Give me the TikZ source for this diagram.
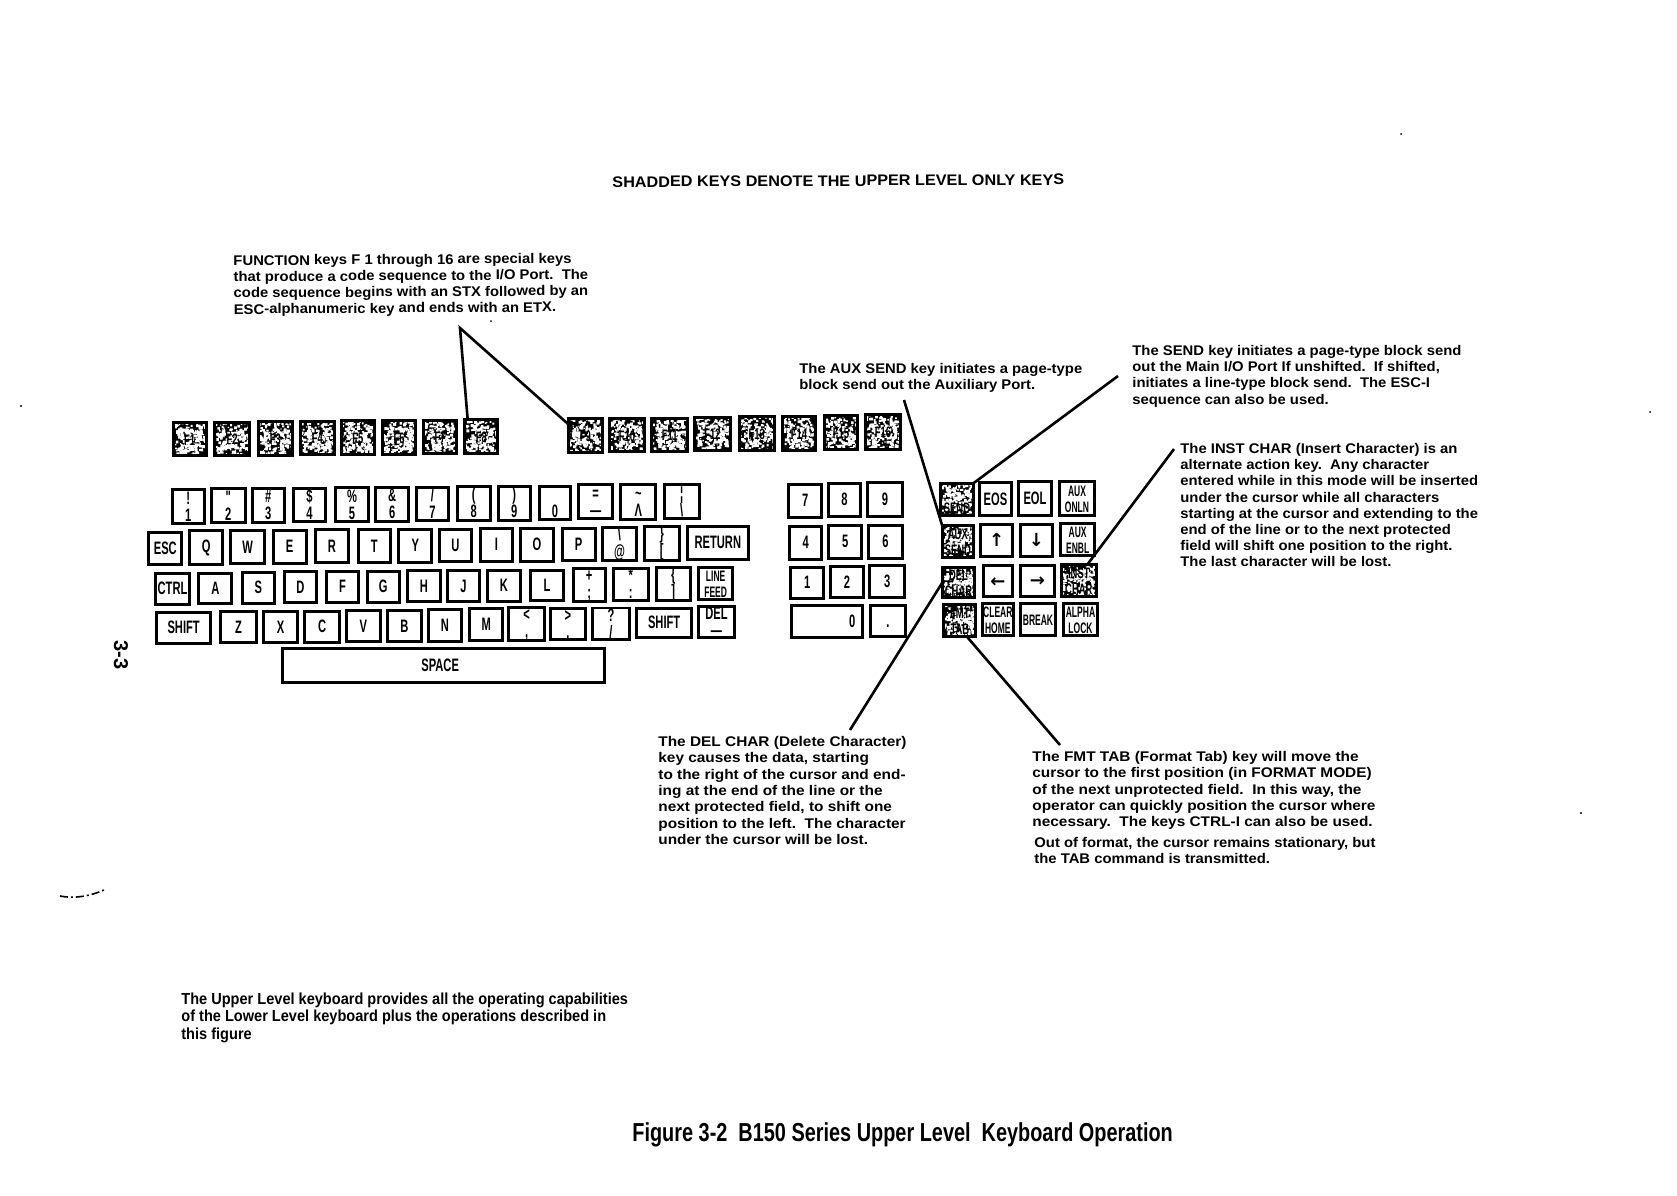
\documentclass[tikz,border=0pt]{standalone}
\usepackage{fontspec}
\setmainfont{Liberation Sans}
\newfontfamily\keyfont[FakeStretch=0.62]{Liberation Sans}
\newfontfamily\smallkeyfont[FakeStretch=0.56]{Liberation Sans}
\newfontfamily\condfont[FakeStretch=0.91]{Liberation Sans}
\newfontfamily\figfont[FakeStretch=0.765]{Liberation Sans}
\newfontfamily\notefont[FakeStretch=1.06]{Liberation Sans}
\newfontfamily\widefont[FakeStretch=1.1]{Liberation Sans}
\newfontfamily\plainfont{Liberation Sans}
\newfontfamily\arrowfont{DejaVu Sans}
\def\ox{0}\def\oy{0}
\newcommand\dsp{\ \ }
\newcommand\speckles{%
  \fill[white] \foreach \i in {1,...,170}{
      \pgfextra{\pgfmathsetmacro\px{(rnd-.5)*\kw}\pgfmathsetmacro\py{(rnd-.5)*\kh}\pgfmathsetmacro\ps{.9+rnd*2.1}}
      ([shift={(\px,\py)}]path picture bounding box.center) rectangle ++(\ps,\ps)};
  \fill[white] \foreach \i in {1,...,60}{
      \pgfextra{\pgfmathsetmacro\px{(rnd-.5)*\kw*.72}\pgfmathsetmacro\py{(rnd-.5)*\kh*.62}\pgfmathsetmacro\ps{1.2+rnd*1.8}}
      ([shift={(\px,\py)}]path picture bounding box.center) rectangle ++(\ps,\ps)};}
\tikzset{x=.5pt,y=-.5pt,
  keybox/.style={draw=black,fill=white,line width=1.4pt,inner sep=0pt,outer sep=0pt,align=center,
    font=\keyfont\bfseries\fontsize{9}{8.5}\selectfont},
  smallkey/.style={keybox,font=\smallkeyfont\bfseries\fontsize{7.6}{8}\selectfont},
  shadedkey/.style={keybox,fill=black,font=\keyfont\bfseries\fontsize{7.6}{8}\selectfont,
    path picture={\speckles}},
  note/.style={anchor=north west,align=left,inner sep=0pt,font=\notefont\bfseries\fontsize{7}{8.1}\selectfont},
  widenote/.style={note,font=\widefont\bfseries\fontsize{7}{8.15}\selectfont},
  leader/.style={draw=black,line width=1.3pt}
}
\newcommand\K[7][keybox]{%
  \pgfmathsetmacro\kw{(#5-#3)/3-3}\pgfmathsetmacro\kh{(#6-#4)/3-3}%
  \pgfmathsetmacro\cx{\ox+(#3+#5)/6}\pgfmathsetmacro\cy{\oy+(#4+#6)/6}%
  \node[#1,minimum width=\kw*.5pt,minimum height=\kh*.5pt] (#2) at (\cx,\cy) {\rule{0pt}{6.5pt}#7\rule[-.6pt]{0pt}{.6pt}};}
\lineskiplimit=-9pt
\begin{document}
\begin{tikzpicture}
\pgfmathsetseed{4711}
\useasboundingbox (0,0) rectangle (1677,1195);
\fill[white] (0,0) rectangle (1677,1195);
% scan specks
\fill[black] (21,406) circle (1.2) (1401,134) circle (1) (1581,813) circle (1.2) (1650,412) circle (1) (491,321) circle (1);
\draw[black,line width=.8pt,dash pattern=on 4pt off 1.5pt on 1pt off 1.5pt] (60,896) .. controls (75,899) and (90,896) .. (104,890);
% title
\node[font=\notefont\bfseries\fontsize{7.65}{9}\selectfont,anchor=west,inner sep=0pt,rotate=.3] (title) at (612,182) {SHADDED KEYS DENOTE THE UPPER LEVEL ONLY KEYS};
% function keys
\def\ox{140}\def\oy{400}
\K[shadedkey]{F1}{95}{63}{203}{172}{F1}
\K[shadedkey]{F2}{220}{62}{333}{170}{F2}
\K[shadedkey]{F3}{350}{60}{462}{170}{F3}
\K[shadedkey]{F4}{477}{60}{587}{168}{F4}
\K[shadedkey]{F5}{600}{58}{707}{168}{F5}
\K[shadedkey]{F6}{722}{58}{832}{167}{F6}
\K[shadedkey]{F7}{845}{57}{955}{165}{F7}
\K[shadedkey]{F8}{970}{55}{1078}{165}{F8}
\def\ox{480}
\K[shadedkey]{F9}{260}{52}{372}{162}{F9}
\K[shadedkey]{F10}{385}{52}{497}{160}{F10}
\K[shadedkey]{F11}{510}{50}{628}{160}{F11}
\K[shadedkey]{F12}{640}{47}{755}{157}{F12}
\K[shadedkey]{F13}{773}{45}{888}{155}{F13}
\def\ox{770}
\K[shadedkey]{F14}{32}{45}{142}{155}{F14}
\K[shadedkey]{F15}{158}{43}{268}{153}{F15}
\K[shadedkey]{F16}{282}{40}{396}{152}{F16}
% number row
\def\ox{140}
\K{n1}{92}{265}{198}{375}{!\\1}
\K{n2}{210}{262}{320}{372}{"\\2}
\K{n3}{333}{260}{437}{372}{\#\\3}
\K{n4}{455}{260}{562}{370}{\$\\4}
\K{n5}{582}{258}{690}{370}{\%\\5}
\K{n6}{703}{258}{810}{368}{\&\\6}
\K{n7}{825}{258}{930}{365}{/\\7}
\K{n8}{948}{255}{1055}{365}{(\\8}
\K{n9}{1070}{255}{1175}{365}{)\\9}
\K{n0}{1195}{255}{1295}{363}{~\\0}
\K{nminus}{1312}{250}{1422}{360}{=\\—}
\def\ox{480}
\K{ntilde}{418}{250}{532}{362}{\textasciitilde\\Λ}
\K{nbar}{548}{250}{662}{360}{¦\\\textbackslash}
% QWERTY row
\def\ox{140}
\K{esc}{22}{392}{130}{498}{ESC}
\K{q}{145}{388}{252}{497}{Q}
\K{w}{268}{388}{378}{495}{W}
\K{e}{395}{386}{503}{495}{E}
\K{r}{522}{385}{630}{493}{R}
\K{t}{650}{385}{755}{493}{T}
\K{y}{772}{384}{880}{492}{Y}
\K{u}{893}{383}{1000}{490}{U}
\K{i}{1017}{382}{1122}{488}{I}
\K{o}{1137}{381}{1245}{488}{O}
\K{p}{1262}{380}{1370}{487}{P}
\def\ox{480}
\K{at}{362}{378}{475}{485}{\textbackslash\\@}
\K{brack}{488}{378}{602}{484}{\}\\{[}}
\K{return}{617}{375}{810}{483}{RETURN}
% home row
\def\ox{140}
\K{ctrl}{42}{515}{153}{618}{CTRL}
\K{a}{172}{515}{280}{615}{A}
\K{s}{302}{512}{408}{614}{S}
\K{d}{428}{511}{535}{613}{D}
\K{f}{555}{510}{660}{612}{F}
\K{g}{677}{510}{782}{612}{G}
\K{h}{798}{508}{905}{610}{H}
\K{j}{918}{508}{1023}{610}{J}
\K{k}{1037}{507}{1147}{608}{K}
\K{l}{1167}{506}{1275}{606}{L}
\K{plus}{1295}{504}{1400}{605}{+\\{;}}
\def\ox{480}
\K{star}{395}{500}{510}{605}{*\\{:}}
\K{brace}{525}{500}{635}{604}{\{\\{]}}
\K[smallkey]{lf}{652}{498}{762}{602}{LINE\\FEED}
% bottom row
\def\ox{140}
\K{lshift}{45}{632}{217}{735}{SHIFT}
\K{z}{238}{631}{353}{733}{Z}
\K{x}{366}{630}{478}{733}{X}
\K{c}{490}{630}{603}{732}{C}
\K{v}{615}{628}{725}{730}{V}
\K{b}{738}{627}{848}{730}{B}
\K{nn}{860}{625}{970}{728}{N}
\K{m}{985}{622}{1092}{727}{M}
\K{lt}{1102}{620}{1218}{725}{<\\{,}}
\K{gt}{1228}{620}{1340}{723}{>\\{.}}
\def\ox{480}
\K{qm}{333}{620}{453}{722}{?\\{/}}
\K{rshift}{465}{620}{640}{718}{SHIFT}
\K{del}{652}{615}{767}{718}{DEL\\—}
\def\ox{140}
\K{space}{422}{742}{1397}{852}{\hspace*{-3pt}SPACE}
% numeric pad
\def\ox{770}
\K{p7}{52}{248}{160}{357}{7}
\K{p8}{170}{245}{277}{355}{8}
\K{p9}{288}{243}{402}{355}{9}
\K{p4}{55}{375}{160}{482}{4}
\K{p5}{172}{372}{280}{480}{5}
\K{p6}{290}{372}{403}{480}{6}
\K{p1}{58}{498}{165}{600}{1}
\K{p2}{177}{496}{285}{598}{2}
\K{p3}{295}{493}{408}{597}{3}
\K{p0}{60}{613}{283}{718}{\hspace*{25pt}0}
\K{pdot}{298}{612}{410}{715}{.}
% edit block
\K[shadedkey]{send}{507}{245}{615}{352}{~\\SEND}
\K{eos}{623}{243}{730}{352}{EOS}
\K{eol}{740}{240}{850}{350}{EOL}
\K[smallkey]{auxon}{865}{240}{977}{350}{AUX\\ONLN}
\K[shadedkey]{auxsend}{512}{372}{615}{478}{AUX\\SEND}
\K{up}{627}{370}{733}{475}{\arrowfont ↑}
\K{down}{747}{368}{852}{475}{\arrowfont ↓}
\K[smallkey]{auxen}{868}{366}{978}{472}{AUX\\ENBL}
\K[shadedkey]{delc}{513}{497}{618}{597}{DEL\\CHAR}
\K{left}{635}{493}{733}{595}{\arrowfont ←}
\K{right}{747}{492}{857}{594}{\arrowfont →}
\K[shadedkey]{inst}{870}{490}{983}{593}{INST\\CHAR}
\K[shadedkey]{fmt}{517}{610}{622}{713}{FMT\\TAB}
\K[smallkey]{clear}{632}{607}{735}{710}{CLEAR\\HOME}
\K[smallkey]{brk}{748}{607}{860}{710}{BREAK}
\K[smallkey]{alpha}{875}{605}{988}{710}{ALPHA\\LOCK}
% notes
\node[note,rotate=.4] (nfunc) at (233,255) {FUNCTION keys F 1 through 16 are special keys\\that produce a code sequence to the I/O Port.\dsp The\\code sequence begins with an STX followed by an\\ESC-alphanumeric key and ends with an ETX.};
\node[note] (naux) at (799,363) {The AUX SEND key initiates a page-type\\block send out the Auxiliary Port.};
\node[note] (nsend) at (1132,345) {The SEND key initiates a page-type block send\\out the Main I/O Port If unshifted.\dsp If shifted,\\initiates a line-type block send.\dsp The ESC-I\\sequence can also be used.};
\node[note] (ninst) at (1180,443) {The INST CHAR (Insert Character) is an\\alternate action key.\dsp Any character\\entered while in this mode will be inserted\\under the cursor while all characters\\starting at the cursor and extending to the\\end of the line or to the next protected\\field will shift one position to the right.\\The last character will be lost.};
\node[widenote] (ndel) at (658,736) {The DEL CHAR (Delete Character)\\key causes the data, starting\\to the right of the cursor and end-\\ing at the end of the line or the\\next protected field, to shift one\\position to the left.\dsp The character\\under the cursor will be lost.};
\node[widenote] (nfmt) at (1032,751) {The FMT TAB (Format Tab) key will move the\\cursor to the first position (in FORMAT MODE)\\of the next unprotected field.\dsp In this way, the\\operator can quickly position the cursor where\\necessary.\dsp The keys CTRL-I can also be used.};
\node[note] (nout) at (1034,837) {Out of format, the cursor remains stationary, but\\the TAB command is transmitted.};
\node[note,font=\condfont\bfseries\fontsize{8}{8.85}\selectfont] (nupper) at (181,992) {The Upper Level keyboard provides all the operating capabilities\\of the Lower Level keyboard plus the operations described in\\this figure};
\node[font=\figfont\bfseries\fontsize{13}{14}\selectfont,anchor=west,inner sep=0pt] (caption) at (632,1135) {Figure 3-2\dsp B150 Series Upper Level\dsp Keyboard Operation};
\node[font=\plainfont\bfseries\fontsize{10}{11}\selectfont,rotate=-90,inner sep=0pt] (pageno) at (121,655) {3-3};
% leaders
\coordinate (fa) at (460,328);
\coordinate (aa) at (904,400);
\coordinate (sa) at (1118,376);
\coordinate (ia) at (1174,449);
\coordinate (da) at (850,730);
\coordinate (ma) at (1060,745);
\draw[leader,line join=miter] (F8.129) -- (fa) -- (F9.146);
\draw[leader] (aa) -- (auxsend.north west);
\draw[leader] (sa) -- (send.north east);
\draw[leader] (ia) -- (inst.62);
\draw[leader] (da) -- (delc.west);
\draw[leader] (ma) -- (fmt.-67);
\end{tikzpicture}
\end{document}
